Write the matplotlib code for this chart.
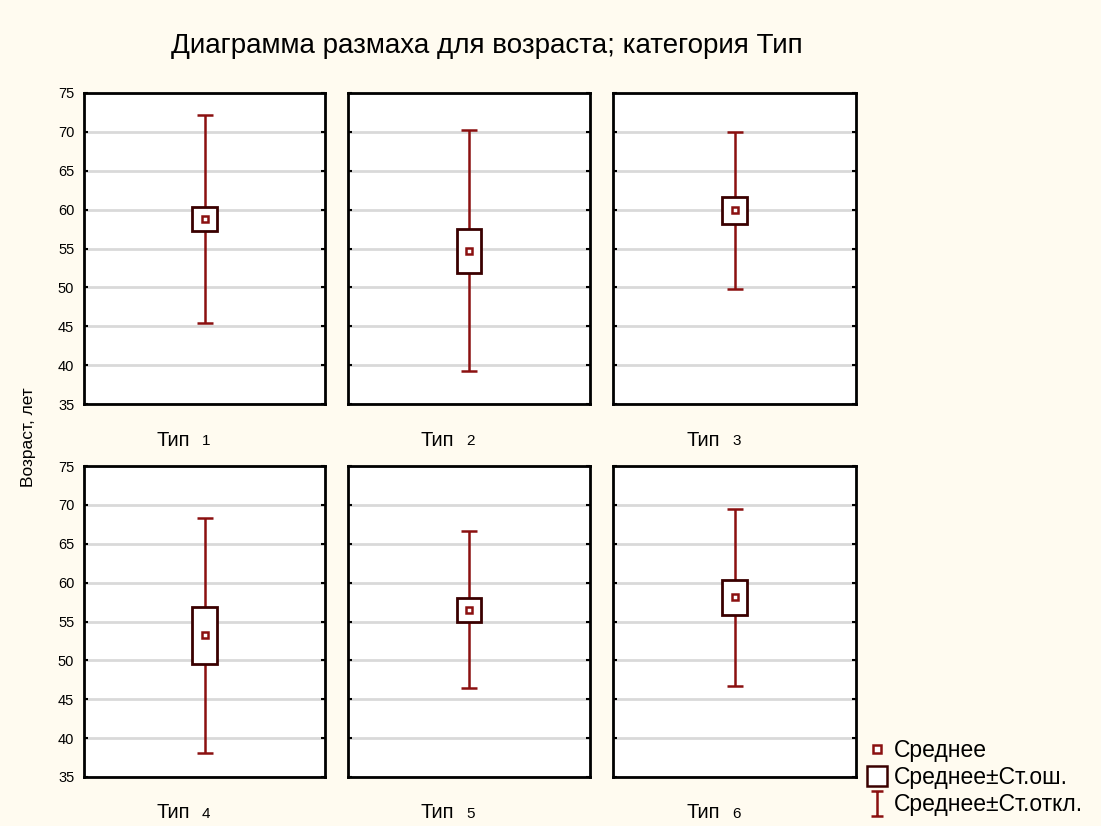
import numpy as np
import matplotlib.pyplot as plt
from matplotlib.patches import Rectangle
from matplotlib.lines import Line2D
from matplotlib.path import Path

plt.rcParams["font.family"] = ["Liberation Sans", "DejaVu Sans"]

# Data: mean, standard error, standard deviation per group
group_prefix = "Тип"
group_nums = ["1", "2", "3", "4", "5", "6"]
means = [58.8, 54.7, 59.9, 53.2, 56.5, 58.1]
se = [1.6, 2.8, 1.7, 3.7, 1.55, 2.3]
sd = [13.4, 15.5, 10.1, 15.1, 10.1, 11.4]
yticks = [35, 40, 45, 50, 55, 60, 65, 70, 75]

BG = "#fffbf0"
WHISKER = "#8b1010"
BOX = "#3a0000"

fig = plt.figure(figsize=(11.01, 8.26), dpi=100, facecolor=BG)

lefts = [84, 348, 613]
widths = [241, 242, 243]
tops = [93, 466]
H = 311

for i, num in enumerate(group_nums):
    row, col = divmod(i, 3)
    l = lefts[col] / 1101
    b = 1 - (tops[row] + H) / 826
    ax = fig.add_axes([l, b, widths[col] / 1101, H / 826])
    ax.set_facecolor("white")
    ax.set_xlim(0, 2)
    ax.set_ylim(35, 75)
    ax.set_yticks(yticks)
    ax.yaxis.grid(True, color="#d9d9d9", linewidth=2)
    ax.set_axisbelow(True)
    ax.tick_params(axis="y", direction="in", length=3, width=1.5, left=True, right=True,
                   labelsize=10.5, pad=7)
    if col != 0:
        ax.set_yticklabels([])
    ax.set_xticks([])
    for s in ax.spines.values():
        s.set_linewidth(2)
        s.set_color("black")

    # category label under the panel: large word, smaller number
    ax.text(0.44, -36 / H, group_prefix, transform=ax.transAxes, ha="right",
            va="center", fontsize=14.5)
    ax.text(0.49, -37 / H, num, transform=ax.transAxes, ha="left",
            va="center", fontsize=11)

    m = means[i]
    ax.errorbar([1], [m], yerr=[sd[i]], fmt="none", ecolor=WHISKER, elinewidth=1.8,
                capsize=6, capthick=1.8, zorder=3)
    ax.add_patch(Rectangle((1 - 0.1, m - se[i]), 0.2, 2 * se[i], facecolor="white",
                           edgecolor=BOX, linewidth=2, zorder=4))
    ax.plot([1], [m], marker="s", markersize=5, markerfacecolor="white",
            markeredgecolor=WHISKER, markeredgewidth=1.8, zorder=5)

fig.text(487 / 1101, 1 - 46 / 826, "Диаграмма размаха для возраста; категория Тип",
         ha="center", va="center", fontsize=20)
fig.text(28 / 1101, 1 - 437 / 826, "Возраст, лет", rotation=90, ha="center",
         va="center", fontsize=12.5)

ibeam = Path([(-0.5, 1), (0.5, 1), (0, 1), (0, -1), (-0.5, -1), (0.5, -1)],
             [Path.MOVETO, Path.LINETO, Path.MOVETO, Path.LINETO, Path.MOVETO, Path.LINETO])
handles = [
    Line2D([], [], linestyle="none", marker="s", markersize=6, markerfacecolor="white",
           markeredgecolor=WHISKER, markeredgewidth=1.8),
    Line2D([], [], linestyle="none", marker="s", markersize=15, markerfacecolor="white",
           markeredgecolor=BOX, markeredgewidth=1.8),
    Line2D([], [], linestyle="none", marker=ibeam, markersize=18, markerfacecolor="none",
           markeredgecolor=WHISKER, markeredgewidth=1.8),
]
labels = ["Среднее", "Среднее±Ст.ош.", "Среднее±Ст.откл."]
fig.legend(handles, labels, loc="upper left", bbox_to_anchor=(866 / 1101, 1 - 739 / 826),
           frameon=False, fontsize=16.5, handlelength=1.0, handletextpad=0.2,
           labelspacing=0.18, borderaxespad=0, borderpad=0)

fig.savefig("out.png", dpi=100, facecolor=BG)
